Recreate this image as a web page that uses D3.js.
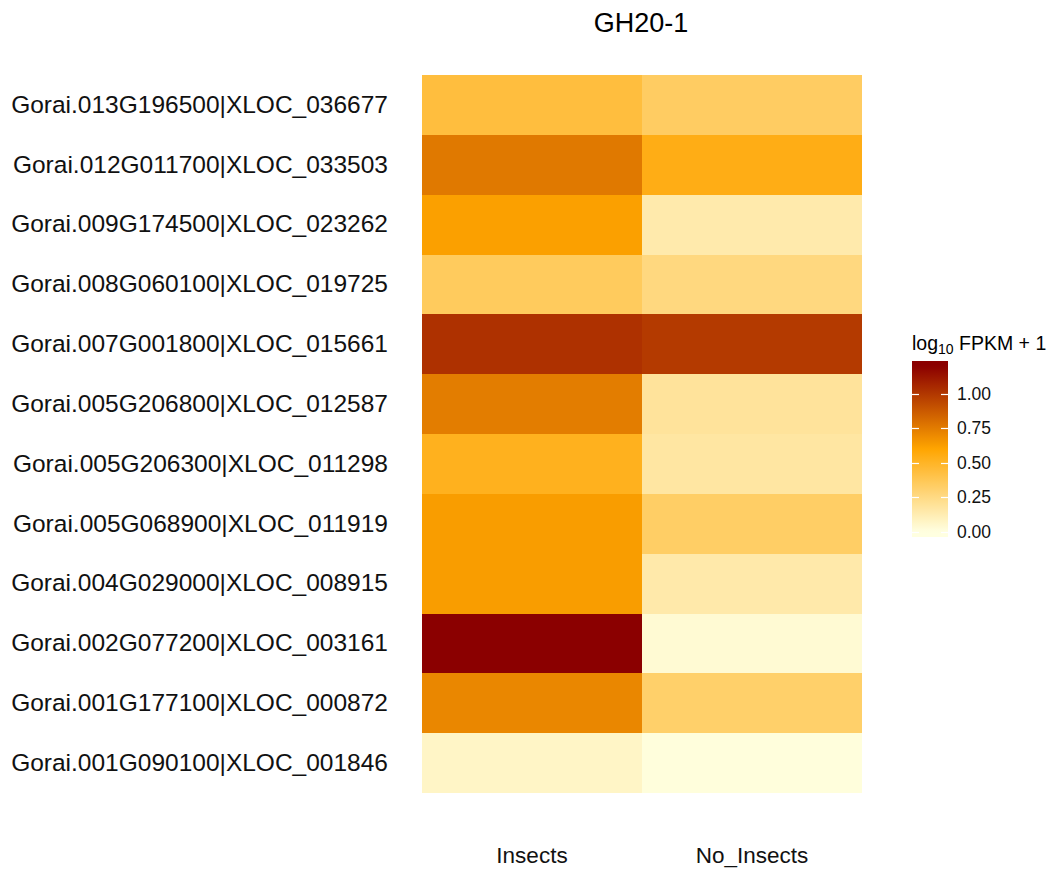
<!DOCTYPE html>
<html><head><meta charset="utf-8">
<script src="https://cdn.jsdelivr.net/npm/d3@7"></script>
<style>body{margin:0;background:#fff;} text{font-family:"Liberation Sans",Arial,sans-serif;}</style>
</head><body>
<svg id="c" width="1054" height="871"></svg>
<script>
const title = "GH20-1";
const genes = [
  "Gorai.013G196500|XLOC_036677",
  "Gorai.012G011700|XLOC_033503",
  "Gorai.009G174500|XLOC_023262",
  "Gorai.008G060100|XLOC_019725",
  "Gorai.007G001800|XLOC_015661",
  "Gorai.005G206800|XLOC_012587",
  "Gorai.005G206300|XLOC_011298",
  "Gorai.005G068900|XLOC_011919",
  "Gorai.004G029000|XLOC_008915",
  "Gorai.002G077200|XLOC_003161",
  "Gorai.001G177100|XLOC_000872",
  "Gorai.001G090100|XLOC_001846"
];
const conditions = ["Insects", "No_Insects"];
const insectsValues   = [0.435, 0.76, 0.62, 0.35, 1.02, 0.747, 0.52, 0.63, 0.63, 1.20, 0.71, 0.07];
const noInsectsValues = [0.337, 0.544, 0.14, 0.259, 0.989, 0.185, 0.165, 0.33, 0.144, 0.035, 0.316, 0.01];
const legendTitle = "FPKM + 1";
const legendTicks = [0, 0.25, 0.5, 0.75, 1.0];
const valueMax = 1.2;
const palette = ["#FFFFE0", "#FFA500", "#8B0000"];

const cells = [];
genes.forEach((g, i) => {
  cells.push({gene: g, cond: conditions[0], v: insectsValues[i]});
  cells.push({gene: g, cond: conditions[1], v: noInsectsValues[i]});
});

const svg = d3.select("#c");
const x = d3.scaleBand().domain(conditions).range([422, 862]);
const y = d3.scaleBand().domain(genes).range([75, 793]);
const color = d3.scaleLinear().domain([0, valueMax / 2, valueMax]).range(palette)
  .interpolate(d3.interpolateRgb).clamp(true);

svg.append("g").selectAll("rect").data(cells).join("rect")
  .attr("x", d => x(d.cond)).attr("y", d => y(d.gene))
  .attr("width", x.bandwidth()).attr("height", y.bandwidth())
  .attr("fill", d => color(d.v)).attr("shape-rendering", "crispEdges");

// title
svg.append("text").attr("x", 641).attr("y", 32).attr("text-anchor", "middle")
  .attr("font-size", 27).attr("fill", "#000").text(title);

// y axis labels
const yAxis = d3.axisLeft(y).tickSize(0).tickPadding(34);
const gy = svg.append("g").attr("transform", "translate(422,0)").call(yAxis);
gy.select(".domain").remove();
gy.selectAll("text").attr("font-size", 24.5).attr("fill", "#111")
  .attr("font-family", "Liberation Sans, Arial, sans-serif");

// x axis labels
const xAxis = d3.axisBottom(x).tickSize(0).tickPadding(54);
const gx = svg.append("g").attr("transform", "translate(0,793)").call(xAxis);
gx.select(".domain").remove();
gx.selectAll("text").attr("font-size", 22.5).attr("fill", "#111")
  .attr("font-family", "Liberation Sans, Arial, sans-serif");

// legend
const barX = 912, barW = 36, barTop = 361, barBot = 537;
const ly = d3.scaleLinear().domain([0, valueMax]).range([531.5, 366]);
const defs = svg.append("defs");
const grad = defs.append("linearGradient").attr("id", "lg")
  .attr("x1", 0).attr("y1", 1).attr("x2", 0).attr("y2", 0);
d3.range(0, 1.0001, 0.02).forEach(t => {
  const yy = barBot - t * (barBot - barTop);
  const v = Math.max(0, Math.min(valueMax, ly.invert(yy)));
  grad.append("stop").attr("offset", t).attr("stop-color", color(v));
});
svg.append("rect").attr("x", barX).attr("y", barTop).attr("width", barW)
  .attr("height", barBot - barTop).attr("fill", "url(#lg)");
const lt = svg.append("g");
legendTicks.forEach(t => {
  const yy = Math.round(ly(t)) + 0.5;
  lt.append("line").attr("x1", barX).attr("x2", barX + 7).attr("y1", yy).attr("y2", yy)
    .attr("stroke", "#fff").attr("stroke-width", 1.2);
  lt.append("line").attr("x1", barX + barW - 7).attr("x2", barX + barW).attr("y1", yy).attr("y2", yy)
    .attr("stroke", "#fff").attr("stroke-width", 1.2);
  lt.append("text").attr("x", barX + barW + 9).attr("y", ly(t)).attr("dy", "0.36em")
    .attr("font-size", 17.5).attr("fill", "#111").text(d3.format(".2f")(t));
});
const tt = svg.append("text").attr("x", 912).attr("y", 350).attr("fill", "#000").attr("font-size", 19.5);
tt.append("tspan").text("log");
tt.append("tspan").attr("font-size", 14).attr("dy", 4).text("10");
tt.append("tspan").attr("dy", -4).text(" " + legendTitle);
</script>
</body></html>
